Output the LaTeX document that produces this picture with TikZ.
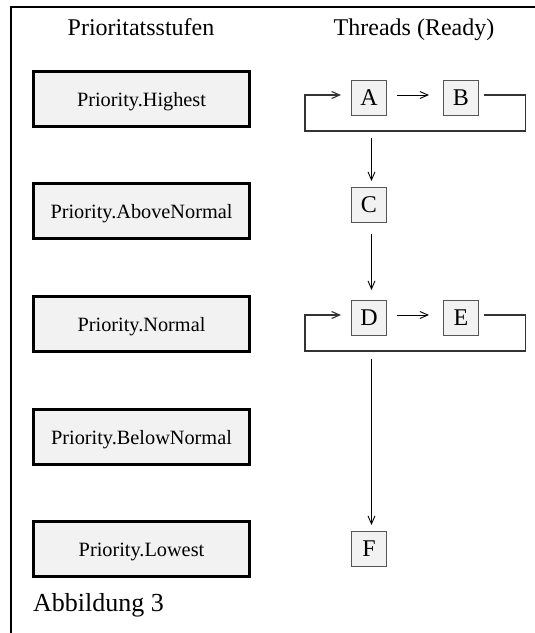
\documentclass[tikz,border=0pt]{standalone}
\usepackage{fontspec}
\setmainfont{Liberation Serif}
\usetikzlibrary{arrows.meta}
\definecolor{boxfill}{HTML}{F2F2F2}
\definecolor{thrborder}{HTML}{555555}
\definecolor{loopgray}{HTML}{333333}
\begin{document}
\begin{tikzpicture}[x=1pt,y=-1pt,
  prio/.style={draw=black, line width=3pt, fill=boxfill, minimum width=216pt, minimum height=55pt, inner sep=0pt, text height=16.6pt, text depth=0pt, font=\fontsize{20.3}{24}\selectfont},
  thr/.style={draw=thrborder, line width=1pt, fill=boxfill, minimum width=35pt, minimum height=35pt, inner sep=0pt, font=\fontsize{24}{28}\selectfont},
  loopline/.style={draw=loopgray, line width=1.1pt},
  tip/.style={-{Straight Barb[length=8pt,width=7pt]}},
  arr/.style={draw=black, line width=0.9pt, tip},
  title/.style={anchor=base, inner sep=0pt, font=\fontsize{24}{28}\selectfont},
  caption/.style={anchor=base west, inner sep=0pt, font=\fontsize{26}{30}\selectfont}
]
\useasboundingbox (0,0) rectangle (535,633);
% frame
\draw[line width=2pt] (10.5,633) -- (10.5,7) -- (535,7);
% titles
\node[title] (t1) at (141,35) {Prioritatsstufen};
\node[title] (t2) at (414,35) {Threads (Ready)};
% priority boxes
\node[prio] (p1) at (141.5,98.5) {Priority.Highest};
\node[prio] (p2) at (141.5,210.5) {Priority.AboveNormal};
\node[prio] (p3) at (141.5,323.5) {Priority.Normal};
\node[prio] (p4) at (141.5,436.5) {Priority.BelowNormal};
\node[prio] (p5) at (141.5,548.5) {Priority.Lowest};
% threads
\node[thr] (A) at (369,98) {A};
\node[thr] (B) at (461,98) {B};
\node[thr] (C) at (369,205) {C};
\node[thr] (D) at (369,318) {D};
\node[thr] (E) at (461,318) {E};
\node[thr] (F) at (369,549) {F};
% loop A-B
\coordinate (lA1) at (525.5,131);
\coordinate (lA2) at (305,131);
\draw[loopline, tip] ([xshift=5pt,yshift=3pt]B.east) -| (lA1) -- (lA2) |- ([xshift=-10pt,yshift=3pt]A.west);
\draw[arr] ([xshift=10pt,yshift=3pt]A.east) -- ([xshift=-14pt,yshift=3pt]B.west);
% loop D-E
\coordinate (lD1) at (525.5,351);
\coordinate (lD2) at (305,351);
\draw[loopline, tip] ([xshift=5pt,yshift=3pt]E.east) -| (lD1) -- (lD2) |- ([xshift=-10pt,yshift=3pt]D.west);
\draw[arr] ([xshift=10pt,yshift=3pt]D.east) -- ([xshift=-14pt,yshift=3pt]E.west);
% vertical arrows
\coordinate (dA) at (371.5,138);
\coordinate (dD) at (371.5,359);
\draw[arr] (dA) -- ([xshift=2.5pt,yshift=6pt]C.north);
\draw[arr] ([xshift=2.5pt,yshift=-11pt]C.south) -- ([xshift=2.5pt,yshift=10pt]D.north);
\draw[arr] (dD) -- ([xshift=2.5pt,yshift=6pt]F.north);
% caption
\node[caption] (cap) at (33,611) {Abbildung 3};
\end{tikzpicture}
\end{document}
